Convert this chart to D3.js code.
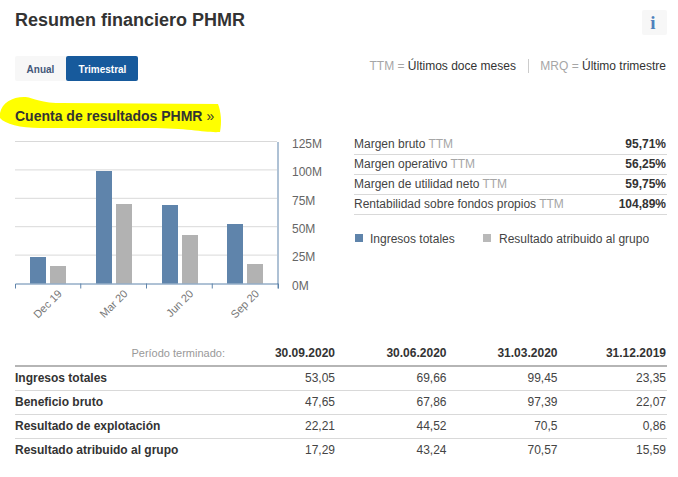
<!DOCTYPE html>
<html><head><meta charset="utf-8">
<script src="https://cdn.jsdelivr.net/npm/d3@7"></script>
<style>
html,body{margin:0;padding:0;background:#fff}
svg{display:block;font-family:"Liberation Sans",Arial,sans-serif}
</style></head><body><svg id="c" width="678" height="477"></svg>
<script>
const quarters = ["Dec 19","Mar 20","Jun 20","Sep 20"];
const seriesNames = ["Ingresos totales","Resultado atribuido al grupo"];
const ingresos = [23.35,99.45,69.66,53.05];
const resultado = [15.59,70.57,43.24,17.29];
const yTicks = [0,25,50,75,100,125];
const ratioLabels = ["Margen bruto","Margen operativo","Margen de utilidad neto","Rentabilidad sobre fondos propios"];
const ratioValues = ["95,71%","56,25%","59,75%","104,89%"];
const periods = ["30.09.2020","30.06.2020","31.03.2020","31.12.2019"];
const rowLabels = ["Ingresos totales","Beneficio bruto","Resultado de explotación","Resultado atribuido al grupo"];
const rowValues = [
  ["53,05","69,66","99,45","23,35"],
  ["47,65","67,86","97,39","22,07"],
  ["22,21","44,52","70,5","0,86"],
  ["17,29","43,24","70,57","15,59"]
];
const BLUE="#5f84ab", GREY="#b2b2b2", DARK="#333", MID="#666", LIGHT="#a6a6a6", RULE="#d9d9d9";
const svg=d3.select("#c");
function t(x,y,s,o={}){const e=svg.append("text").attr("x",x).attr("y",y).text(s)
  .attr("font-size",o.size||12).attr("fill",o.fill||DARK).attr("font-weight",o.bold?"bold":"normal")
  .attr("text-anchor",o.anchor||"start");return e;}

// header
t(15,26,"Resumen financiero PHMR",{size:18,bold:true});
svg.append("rect").attr("x",642).attr("y",10).attr("width",25).attr("height",25).attr("rx",2).attr("fill","#f7f7f7");
t(653,29,"i",{size:19,bold:true,fill:"#4f81bd",anchor:"middle"}).style("font-family","'Liberation Serif',serif");

// toggle
svg.append("rect").attr("x",15).attr("y",56).attr("width",52).attr("height",25).attr("rx",2).attr("fill","#f7f7f7");
svg.append("rect").attr("x",66).attr("y",56).attr("width",72).attr("height",25).attr("rx",2).attr("fill","#175a9c");
t(40.5,72.5,"Anual",{size:10,bold:true,fill:"#44587a",anchor:"middle"});
t(102.5,72.5,"Trimestral",{size:10,bold:true,fill:"#fff",anchor:"middle"});

// legend note
let n=t(369.5,70,"",{size:12});
n.append("tspan").attr("fill",LIGHT).text("TTM = ");
n.append("tspan").attr("fill",DARK).text("Últimos doce meses");
svg.append("line").attr("x1",528.5).attr("x2",528.5).attr("y1",59).attr("y2",73).attr("stroke","#ccc");
n=t(666,70,"",{size:12,anchor:"end"});
n.append("tspan").attr("fill",LIGHT).text("MRQ = ");
n.append("tspan").attr("fill",DARK).text("Último trimestre");

// yellow highlighter stroke
svg.append("path").attr("fill","#ffff00")
 .attr("d","M0,113 C2,103 12,97 24,97 C33,97 38,103 60,103 L218,104 C221,112 222,122 220,132 C205,133 190,128 150,128 L40,128 C20,128 5,124 0,118 Z");
let h=t(15,121,"Cuenta de resultados PHMR",{size:14,bold:true});
h.append("tspan").attr("font-weight","normal").attr("dx",4).text("»");

// chart
const x=d3.scaleBand().domain(quarters).range([15,278]);
const inner=d3.scaleBand().domain([0,1]).range([15,51]).paddingInner(0.2);
const y=d3.scaleLinear().domain([0,125]).range([283.5,141.5]);
const g=svg.append("g");
g.selectAll("line.grid").data(yTicks.filter(d=>d>0)).join("line").attr("class","grid")
 .attr("x1",15).attr("x2",277).attr("y1",d=>y(d)).attr("y2",d=>y(d)).attr("stroke",RULE);
[ingresos,resultado].forEach((vals,i)=>{
  g.selectAll("rect.s"+i).data(vals).join("rect").attr("class","s"+i)
   .attr("x",(d,j)=>Math.round(x(quarters[j])+inner(i))).attr("width",inner.bandwidth())
   .attr("y",d=>Math.ceil(y(d))).attr("height",d=>y(0)-Math.ceil(y(d))).attr("fill",i?GREY:BLUE);
});
const ya=d3.axisRight(y).tickValues(yTicks).tickSize(0).tickPadding(14.5).tickFormat(d=>d+"M");
const yg=svg.append("g").attr("transform","translate(277.5,2)").call(ya);
yg.select(".domain").attr("stroke",BLUE).attr("transform","translate(0,-2)");
yg.selectAll("text").attr("font-size",12).attr("fill",MID).attr("font-family",null);
const xa=d3.axisBottom(x).tickSize(5).tickSizeOuter(5);
const xg=svg.append("g").attr("transform","translate(0,283.5)").call(xa);
xg.select(".domain").attr("stroke",BLUE);
xg.selectAll(".tick line").attr("stroke",BLUE).attr("transform",`translate(${x.bandwidth()/2},0)`);
xg.selectAll(".tick text").attr("font-size",11).attr("fill","#777").attr("font-family",null)
 .attr("text-anchor","end").attr("transform","translate(6,-1) rotate(-45)").attr("dy","0.6em").attr("dx","-0.2em");

// ratios
ratioLabels.forEach((l,i)=>{
  const yy=148+i*20;
  const e=t(354,yy,l,{size:12,fill:"#444"});
  e.append("tspan").attr("fill",LIGHT).attr("dx",3).text("TTM");
  t(666,yy,ratioValues[i],{size:12,bold:true,anchor:"end"});
  svg.append("line").attr("x1",354).attr("x2",667).attr("y1",154.5+i*20).attr("y2",154.5+i*20).attr("stroke",RULE);
});
// legend
[[355,370],[483,499]].forEach((p,i)=>{
  svg.append("rect").attr("x",p[0]).attr("y",234).attr("width",8).attr("height",8).attr("fill",i?"#b9b9b9":BLUE);
  t(p[1],243,seriesNames[i],{size:12,fill:"#444"});
});

// table
const colX=[335,446.5,557.5,666];
t(225,357,"Período terminado:",{size:11,fill:"#999",anchor:"end"});
periods.forEach((p,i)=>t(colX[i],357,p,{size:12,bold:true,anchor:"end"}));
svg.append("rect").attr("x",15).attr("y",365).attr("width",652).attr("height",2).attr("fill","#b5b5b5");
rowLabels.forEach((l,r)=>{
  const yy=382+r*24;
  t(15,yy,l,{size:12,bold:true});
  rowValues[r].forEach((v,c)=>t(colX[c],yy,v,{size:12,fill:"#444",anchor:"end"}));
  if(r<3) svg.append("line").attr("x1",15).attr("x2",667).attr("y1",390.5+r*24).attr("y2",390.5+r*24).attr("stroke",RULE);
});
</script></body></html>
